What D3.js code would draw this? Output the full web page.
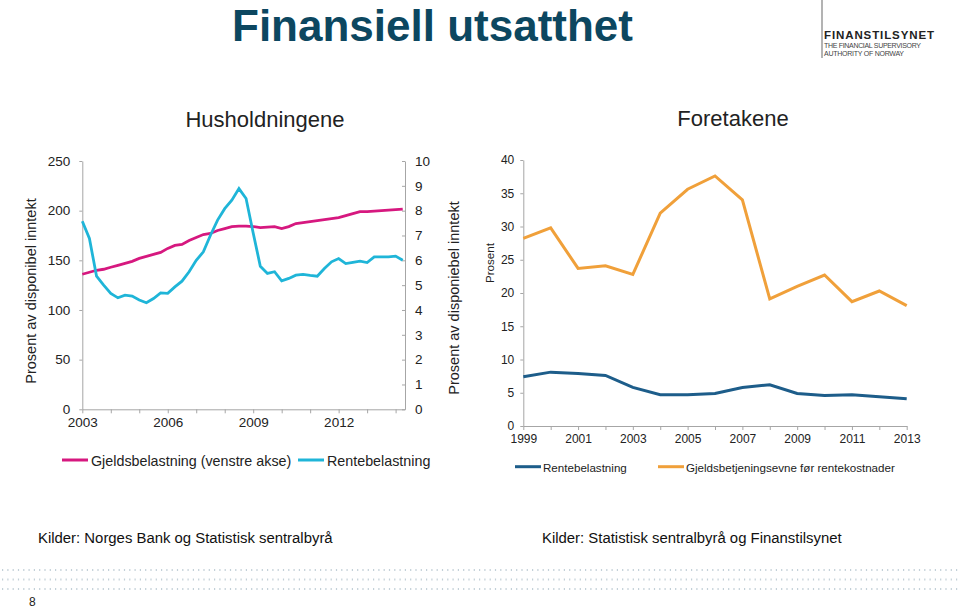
<!DOCTYPE html>
<html>
<head>
<meta charset="utf-8">
<script src="https://cdn.jsdelivr.net/npm/d3@7"></script>
<style>
  body { margin: 0; background: #fff; }
  svg { display: block; font-family: "Liberation Sans", Arial, sans-serif; }
</style>
</head>
<body>
<div id="canvas"></div>
<script>
// Husholdningene: quarterly data 2003K1 - 2014K2
const quarters = [
  "2003K1","2003K2","2003K3","2003K4","2004K1","2004K2","2004K3","2004K4",
  "2005K1","2005K2","2005K3","2005K4","2006K1","2006K2","2006K3","2006K4",
  "2007K1","2007K2","2007K3","2007K4","2008K1","2008K2","2008K3","2008K4",
  "2009K1","2009K2","2009K3","2009K4","2010K1","2010K2","2010K3","2010K4",
  "2011K1","2011K2","2011K3","2011K4","2012K1","2012K2","2012K3","2012K4",
  "2013K1","2013K2","2013K3","2013K4","2014K1","2014K2"]
const gjeldsbelastning = [
  136, 138, 140, 141, 143, 145, 147, 149,
  152, 154, 156, 158, 162, 165, 166, 170,
  173, 176, 177, 180, 182, 184, 184.5, 184.5,
  184, 183, 183.5, 184, 182, 184, 187, 188,
  189, 190, 191, 192, 193, 195, 197, 199,
  199, 199.5, 200, 200.5, 201, 201.5]
const rentebelastningHus = [
  7.57, 6.88, 5.36, 5.0, 4.67, 4.49, 4.6, 4.56,
  4.4, 4.29, 4.46, 4.69, 4.67, 4.93, 5.16, 5.54,
  6.0, 6.34, 7.01, 7.62, 8.08, 8.42, 8.89, 8.49,
  7.1, 5.76, 5.47, 5.54, 5.17, 5.27, 5.4, 5.43,
  5.39, 5.36, 5.67, 5.94, 6.07, 5.87, 5.92, 5.97,
  5.91, 6.14, 6.14, 6.14, 6.17, 6.0]
const leftTicks = [0, 50, 100, 150, 200, 250]
const rightTicks = [0, 1, 2, 3, 4, 5, 6, 7, 8, 9, 10]
const husYearTicks = [2003, 2006, 2009, 2012]

// Foretakene: yearly data 1999 - 2013
const years = [1999, 2000, 2001, 2002, 2003, 2004, 2005, 2006, 2007, 2008, 2009, 2010, 2011, 2012, 2013]
const rentebelastningFor = [7.4, 8.1, 7.9, 7.6, 5.8, 4.7, 4.7, 4.9, 5.8, 6.2, 4.9, 4.6, 4.7, 4.4, 4.1]
const gjeldsbetjening = [28.2, 29.8, 23.7, 24.1, 22.8, 32.0, 35.6, 37.6, 34.0, 19.1, 21.0, 22.7, 18.7, 20.3, 18.1]
const forTicks = [0, 5, 10, 15, 20, 25, 30, 35, 40]
const forYearLabels = [1999, 2001, 2003, 2005, 2007, 2009, 2011, 2013]

const W = 960, H = 609
const svg = d3.select("#canvas").append("svg").attr("width", W).attr("height", H)
const axisColor = "#a6a6a6"
const pink = "#d6187f", cyan = "#1fb5d8", navy = "#1d5d8a", orange = "#f0a03a"

// title + logo
svg.append("text").attr("x", 232).attr("y", 41).attr("font-size", 44).attr("font-weight", "bold")
  .attr("fill", "#0c4760").text("Finansiell utsatthet")
svg.append("line").attr("x1", 822).attr("y1", 0).attr("x2", 822).attr("y2", 58).attr("stroke", "#9a9a9a").attr("stroke-width", 1.5)
svg.append("text").attr("x", 824).attr("y", 38.5).attr("font-size", 11.5).attr("font-weight", "bold")
  .attr("fill", "#222").attr("textLength", 110).text("FINANSTILSYNET")
svg.append("text").attr("x", 824).attr("y", 48).attr("font-size", 7).attr("fill", "#444")
  .attr("textLength", 97).text("THE FINANCIAL SUPERVISORY")
svg.append("text").attr("x", 824).attr("y", 55.5).attr("font-size", 7).attr("fill", "#444")
  .attr("textLength", 80).text("AUTHORITY OF NORWAY")

// subtitles
svg.append("text").attr("x", 265).attr("y", 127).attr("text-anchor", "middle").attr("font-size", 22).attr("fill", "#222").text("Husholdningene")
svg.append("text").attr("x", 733).attr("y", 126).attr("text-anchor", "middle").attr("font-size", 22).attr("fill", "#222").text("Foretakene")

// ---------- left chart ----------
const tq = quarters.map(q => +q.slice(0, 4) + (+q.slice(5) - 1) / 4)
const x1 = d3.scaleLinear().domain([2003, 2014.33]).range([82.3, 405])
const yL = d3.scaleLinear().domain([0, 250]).range([409.3, 161])
const yR = d3.scaleLinear().domain([0, 10]).range([409.3, 161])

const gL = svg.append("g")
function styleAxis(g, size) {
  g.select(".domain").attr("stroke", axisColor)
  g.selectAll(".tick line").attr("stroke", axisColor)
  g.selectAll(".tick text").attr("fill", "#222").attr("font-size", size).attr("font-family", "Liberation Sans, Arial, sans-serif")
}
gL.append("g").attr("transform", "translate(82.3,0)")
  .call(d3.axisLeft(yL).tickValues(leftTicks).tickSize(3).tickSizeOuter(0).tickPadding(9))
  .call(g => styleAxis(g, 13.5))
gL.append("g").attr("transform", "translate(405,0)")
  .call(d3.axisRight(yR).tickValues(rightTicks).tickSize(-3).tickSizeOuter(0).tickPadding(10))
  .call(g => styleAxis(g, 13.5))
gL.append("g").attr("transform", "translate(0,409.3)")
  .call(d3.axisBottom(x1).tickValues(d3.range(2003, 2015)).tickSize(4).tickSizeOuter(0).tickPadding(4)
    .tickFormat(d => husYearTicks.includes(d) ? d : ""))
  .call(g => styleAxis(g, 13.5))

const lineL = d3.line().x((d, i) => x1(tq[i])).y(d => yL(d))
const lineR = d3.line().x((d, i) => x1(tq[i])).y(d => yR(d))
gL.append("path").datum(gjeldsbelastning).attr("d", lineL).attr("fill", "none").attr("stroke", pink).attr("stroke-width", 2.8)
gL.append("path").datum(rentebelastningHus).attr("d", lineR).attr("fill", "none").attr("stroke", cyan).attr("stroke-width", 2.8)

svg.append("text").attr("transform", "translate(36,291) rotate(-90)").attr("text-anchor", "middle")
  .attr("font-size", 14.5).attr("fill", "#222").text("Prosent av disponibel inntekt")
svg.append("text").attr("transform", "translate(459,298) rotate(-90)").attr("text-anchor", "middle")
  .attr("font-size", 14.5).attr("fill", "#222").text("Prosent av disponiebel inntekt")

// left legend
const legL = [{ c: pink, t: "Gjeldsbelastning (venstre akse)", x: 62 }, { c: cyan, t: "Rentebelastning", x: 298 }]
legL.forEach(d => {
  svg.append("line").attr("x1", d.x).attr("x2", d.x + 26).attr("y1", 460).attr("y2", 460).attr("stroke", d.c).attr("stroke-width", 3)
  svg.append("text").attr("x", d.x + 29).attr("y", 465.5).attr("font-size", 14.3).attr("fill", "#222").text(d.t)
})

// ---------- right chart ----------
const x2 = d3.scaleLinear().domain([1999, 2013]).range([523.3, 906.7])
const y2 = d3.scaleLinear().domain([0, 40]).range([426, 160])
const gR = svg.append("g")
gR.append("g").attr("transform", "translate(523.3,0)")
  .call(d3.axisLeft(y2).tickValues(forTicks).tickSize(3).tickSizeOuter(0).tickPadding(6))
  .call(g => styleAxis(g, 12))
gR.append("g").attr("transform", "translate(0,426)")
  .call(d3.axisBottom(x2).tickValues(years).tickSize(4).tickSizeOuter(0).tickPadding(4)
    .tickFormat(d => forYearLabels.includes(d) ? d : ""))
  .call(g => styleAxis(g, 12))
const line2 = d3.line().x((d, i) => x2(years[i])).y(d => y2(d))
gR.append("path").datum(gjeldsbetjening).attr("d", line2).attr("fill", "none").attr("stroke", orange).attr("stroke-width", 3)
gR.append("path").datum(rentebelastningFor).attr("d", line2).attr("fill", "none").attr("stroke", navy).attr("stroke-width", 3)

svg.append("text").attr("transform", "translate(494,263) rotate(-90)").attr("text-anchor", "middle")
  .attr("font-size", 11.6).attr("fill", "#222").text("Prosent")

const legR = [{ c: navy, t: "Rentebelastning", x: 515 }, { c: orange, t: "Gjeldsbetjeningsevne før rentekostnader", x: 658 }]
legR.forEach(d => {
  svg.append("line").attr("x1", d.x).attr("x2", d.x + 26).attr("y1", 466.7).attr("y2", 466.7).attr("stroke", d.c).attr("stroke-width", 3)
  svg.append("text").attr("x", d.x + 28).attr("y", 471.5).attr("font-size", 11.6).attr("fill", "#222").text(d.t)
})

// sources
svg.append("text").attr("x", 38).attr("y", 543).attr("font-size", 14.9).attr("fill", "#111").text("Kilder: Norges Bank og Statistisk sentralbyrå")
svg.append("text").attr("x", 542).attr("y", 543).attr("font-size", 14.9).attr("fill", "#111").text("Kilder: Statistisk sentralbyrå og Finanstilsynet")

// dotted footer rows
const dotRows = [570, 579.5, 589]
dotRows.forEach(y => {
  svg.append("line").attr("x1", 2).attr("x2", 958).attr("y1", y).attr("y2", y)
    .attr("stroke", "#c3d0d8").attr("stroke-width", 2).attr("stroke-dasharray", "1.2,4.1")
})
svg.append("text").attr("x", 29).attr("y", 606).attr("font-size", 12).attr("fill", "#222").text("8")
</script>
</body>
</html>
